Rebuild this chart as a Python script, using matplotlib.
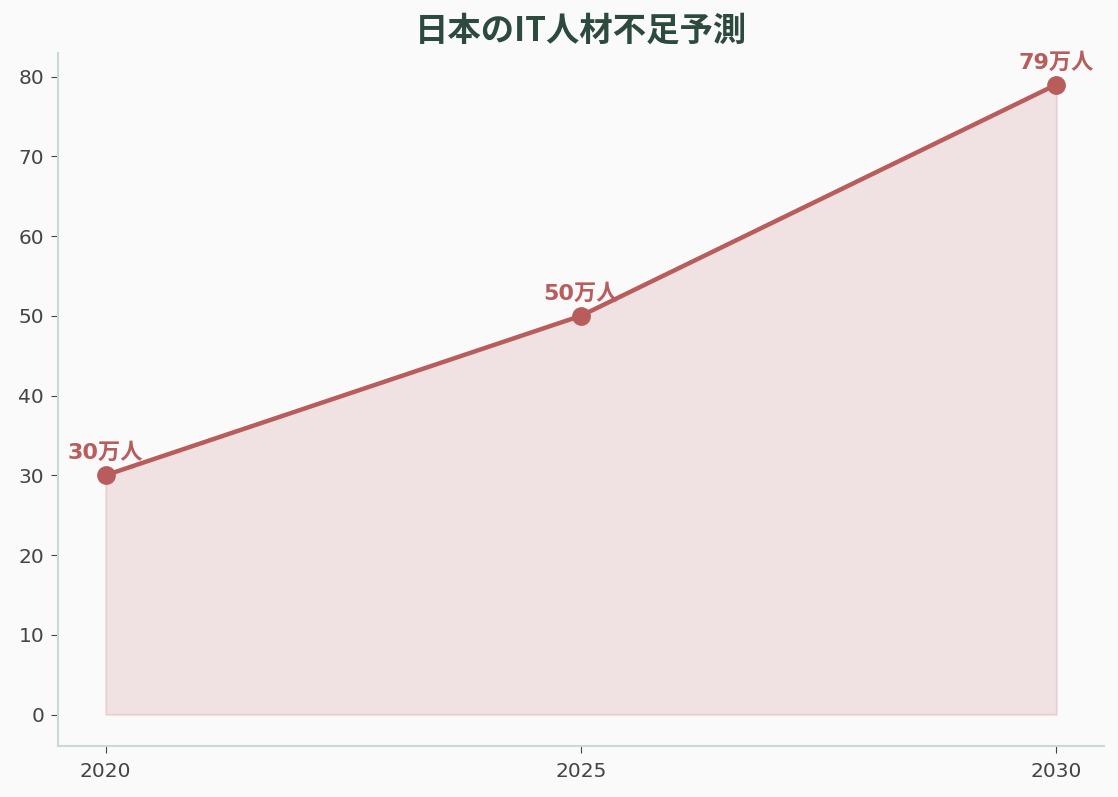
import matplotlib
matplotlib.use("Agg")
import matplotlib.pyplot as plt

years = [2020, 2025, 2030]
shortage = [30, 50, 79]
labels = ["30万人", "50万人", "79万人"]
title = "日本のIT人材不足予測"

plt.rcParams['font.family'] = ['Noto Sans CJK JP', 'DejaVu Sans']

line_color = "#b85c5c"
bg = "#fafafa"

fig = plt.figure(figsize=(11.18, 7.97), dpi=100, facecolor=bg)
ax = fig.add_axes([58/1118, 1-746/797, (1104-58)/1118, (746-53)/797])
ax.set_facecolor(bg)

ax.fill_between(years, shortage, 0, color=line_color, alpha=0.15, linewidth=1.5, edgecolor=line_color)
ax.plot(years, shortage, color=line_color, linewidth=3.2, marker='o', markersize=12.5, zorder=3)

for x, y, t in zip(years, shortage, labels):
    ax.annotate(t, (x, y), xytext=(0, 11.5), textcoords='offset points', ha='center', va='baseline',
                fontsize=16, fontweight='bold', color=line_color,
                family=['DejaVu Sans', 'Noto Sans CJK JP'])

ax.set_xticks(years)
ax.set_xticklabels([str(y) for y in years])
ax.set_yticks(range(0, 81, 10))
ax.tick_params(axis='both', labelsize=14.5, colors='#444444', length=5)
ax.tick_params(axis='x', pad=6.5)
ax.tick_params(axis='y', pad=5)
for lab in ax.get_xticklabels() + ax.get_yticklabels():
    lab.set_family('DejaVu Sans')
for s in ['top', 'right']:
    ax.spines[s].set_visible(False)
for s in ['left', 'bottom']:
    ax.spines[s].set_color('#c8dcd2')
    ax.spines[s].set_linewidth(1.5)

fig.text(581/1118, 1-31/797, title, ha='center', va='center', fontsize=24, fontweight='bold', color='#2d4a3e')

fig.savefig("out.png", dpi=100, facecolor=bg)
